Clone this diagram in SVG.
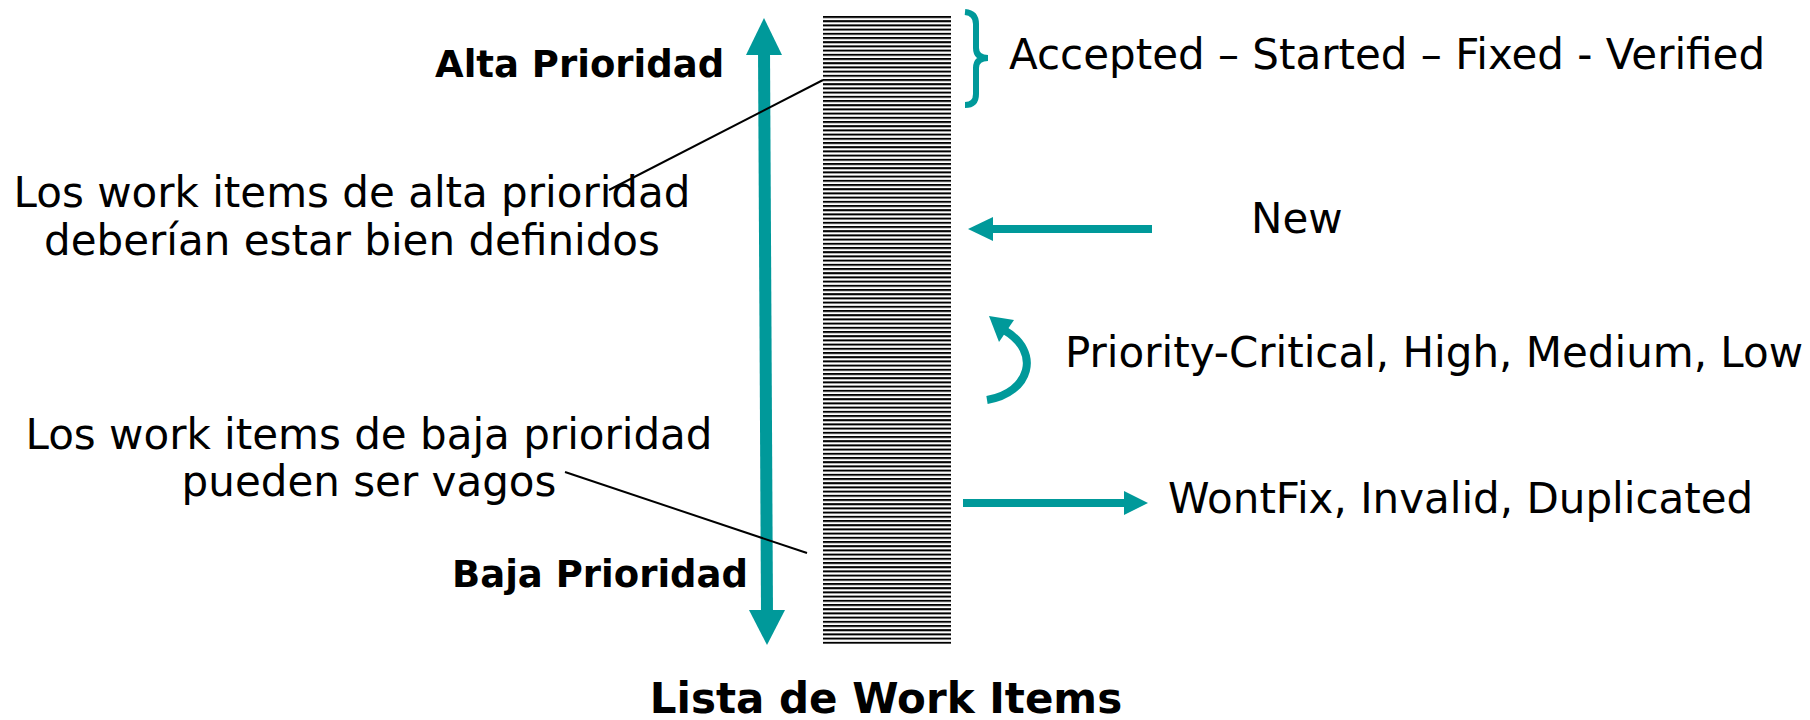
<svg xmlns="http://www.w3.org/2000/svg" width="1810" height="720" viewBox="0 0 1810 720">
  <style>
    .t { font-family: "DejaVu Sans", "Verdana", sans-serif; font-size: 42px; fill: #000; }
    .b { font-family: "DejaVu Sans", "Verdana", sans-serif; font-weight: bold; font-size: 37px; fill: #000; }
    .title { font-size: 42px; }
    .teal { fill: #00999A; }
    .tealS { stroke: #00999A; fill: none; }
    .leader { stroke: #000; stroke-width: 2; fill: none; }
  </style>
  <defs>
    <pattern id="stripes" patternUnits="userSpaceOnUse" x="0" y="16" width="10" height="4.2">
      <rect x="0" y="0" width="10" height="2" fill="#000"/>
    </pattern>
  </defs>
  <rect width="1810" height="720" fill="#fff"/>

  <g id="lista">
    <rect x="823" y="16" width="128" height="628" fill="url(#stripes)"/>
    <text class="b title" x="886" y="713" text-anchor="middle">Lista de Work Items</text>
  </g>

  <g id="eje-prioridad">
    <line class="tealS" x1="764" y1="50" x2="767" y2="614" stroke-width="12"/>
    <polygon class="teal" points="764,18 746,55 782,55"/>
    <polygon class="teal" points="767,645 749,610 785,610"/>
  </g>

  <g id="alta-prioridad">
    <text class="b" x="435" y="77">Alta Prioridad</text>
  </g>
  <g id="baja-prioridad">
    <text class="b" x="452" y="587">Baja Prioridad</text>
  </g>

  <g id="nota-alta">
    <text class="t" x="352" y="207" text-anchor="middle">Los work items de alta prioridad</text>
    <text class="t" x="352" y="255" text-anchor="middle">deberían estar bien definidos</text>
  </g>
  <g id="nota-baja">
    <text class="t" x="369" y="449" text-anchor="middle">Los work items de baja prioridad</text>
    <text class="t" x="369" y="496" text-anchor="middle">pueden ser vagos</text>
  </g>

  <g id="estados-aceptados">
    <path class="tealS" stroke-width="6" d="M965,12 Q976,13 976,24 L976,48 Q976,58 988,58 Q976,58 976,68 L976,94 Q976,105 965,105"/>
    <text class="t" x="1009" y="69">Accepted – Started – Fixed - Verified</text>
  </g>

  <g id="nuevo">
    <text class="t" x="1251" y="233">New</text>
  </g>
  <g id="prioridad">
    <text class="t" x="1065" y="367">Priority-Critical, High, Medium, Low</text>
  </g>
  <g id="descartados">
    <text class="t" x="1168" y="513">WontFix, Invalid, Duplicated</text>
  </g>

  <g id="connectors">
    <line class="leader" x1="823" y1="80" x2="609" y2="190"/>
    <line class="leader" x1="565" y1="472" x2="807" y2="553"/>
    <line class="tealS" x1="1152" y1="229" x2="990" y2="229" stroke-width="8"/>
    <polygon class="teal" points="968,229 993,217 993,241"/>
    <path class="tealS" stroke-width="8" d="M987,400 C1030,393 1042,352 1004,330"/>
    <polygon class="teal" points="989,316 1014,320 999,342"/>
    <line class="tealS" x1="963" y1="503" x2="1128" y2="503" stroke-width="8"/>
    <polygon class="teal" points="1148,503 1124,491 1124,515"/>
  </g>
</svg>
